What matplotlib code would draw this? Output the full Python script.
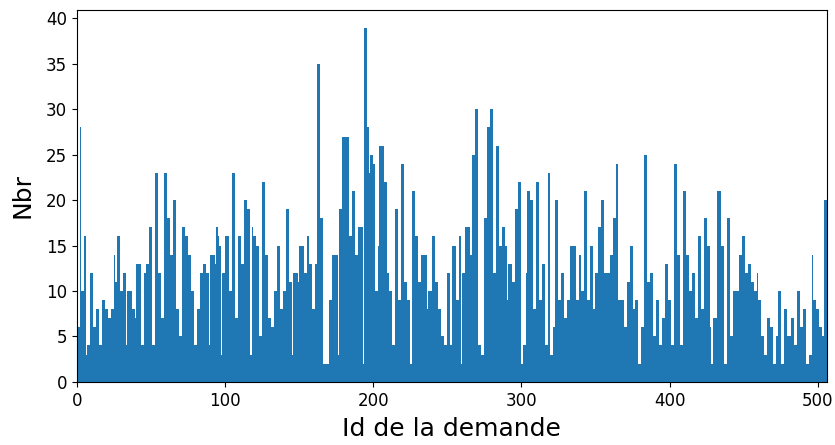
import numpy as np
import matplotlib
matplotlib.use('Agg')
import matplotlib.pyplot as plt

# Nombre par id de demande
counts = [
    6, 6, 28, 10, 10, 16, 3, 4, 4, 12,
    12, 6, 6, 8, 8, 4, 4, 9, 9, 8,
    8, 7, 7, 8, 8, 14, 11, 16, 16, 10,
    10, 12, 12, 4, 10, 10, 10, 8, 8, 7,
    13, 13, 13, 4, 4, 12, 12, 13, 13, 17,
    17, 4, 4, 23, 23, 12, 12, 7, 7, 23,
    23, 18, 18, 14, 14, 20, 20, 8, 8, 5,
    5, 17, 17, 16, 16, 14, 14, 10, 10, 4,
    4, 8, 8, 12, 12, 13, 13, 12, 12, 4,
    14, 14, 14, 13, 17, 16, 15, 3, 12, 12,
    16, 16, 16, 10, 10, 23, 23, 7, 7, 16,
    16, 13, 13, 20, 20, 19, 19, 3, 17, 16,
    16, 15, 15, 5, 5, 22, 22, 14, 14, 7,
    7, 6, 6, 10, 10, 15, 15, 8, 8, 10,
    10, 19, 19, 11, 11, 3, 12, 12, 12, 11,
    15, 15, 15, 12, 12, 16, 16, 13, 13, 8,
    8, 13, 35, 35, 18, 18, 2, 2, 2, 2,
    9, 9, 14, 14, 14, 14, 3, 19, 19, 27,
    27, 27, 27, 27, 16, 16, 21, 21, 14, 14,
    17, 17, 17, 2, 39, 39, 28, 23, 25, 25,
    24, 10, 10, 15, 26, 26, 26, 22, 22, 12,
    12, 10, 10, 4, 4, 19, 19, 9, 9, 24,
    24, 11, 11, 9, 9, 2, 21, 21, 16, 16,
    11, 11, 14, 14, 14, 14, 8, 10, 10, 10,
    16, 16, 11, 11, 8, 8, 5, 5, 4, 4,
    12, 12, 4, 15, 15, 15, 9, 9, 16, 2,
    12, 12, 17, 17, 17, 14, 14, 25, 25, 30,
    30, 4, 4, 3, 3, 18, 18, 28, 28, 30,
    30, 12, 12, 26, 26, 15, 15, 17, 17, 15,
    9, 13, 13, 13, 11, 11, 19, 19, 22, 22,
    2, 4, 4, 12, 21, 21, 20, 20, 8, 8,
    22, 22, 9, 9, 13, 13, 4, 4, 23, 3,
    3, 6, 6, 20, 20, 9, 9, 12, 12, 7,
    7, 9, 9, 15, 15, 15, 15, 9, 9, 14,
    10, 10, 21, 21, 9, 9, 15, 15, 8, 8,
    12, 12, 17, 17, 20, 20, 12, 12, 12, 12,
    14, 14, 18, 18, 24, 9, 9, 9, 9, 6,
    6, 11, 11, 15, 15, 8, 8, 9, 9, 2,
    2, 6, 6, 25, 25, 11, 11, 12, 12, 5,
    5, 9, 9, 4, 4, 7, 7, 13, 13, 9,
    9, 4, 4, 24, 24, 14, 14, 4, 4, 21,
    21, 14, 14, 10, 10, 12, 12, 7, 7, 16,
    16, 8, 8, 18, 18, 15, 15, 6, 2, 7,
    7, 7, 21, 21, 21, 15, 15, 2, 2, 18,
    18, 5, 5, 10, 10, 10, 10, 14, 14, 16,
    16, 12, 12, 13, 13, 11, 11, 10, 10, 12,
    9, 9, 5, 5, 3, 3, 7, 7, 6, 6,
    2, 2, 5, 10, 10, 2, 2, 8, 8, 5,
    5, 5, 7, 7, 4, 4, 10, 10, 6, 6,
    8, 8, 2, 2, 3, 3, 14, 9, 9, 8,
    8, 6, 6, 5, 20, 20,
]
ids = np.arange(len(counts))

fig = plt.figure(figsize=(8.35, 4.45), dpi=100)
ax = fig.add_axes([0.092, 0.142, 0.898, 0.836])
ax.bar(ids, counts, width=1.0, align='edge', color='#1f77b4', linewidth=0)
ax.set_xlim(0, len(counts))
ax.set_xlabel('Id de la demande', fontsize=18, labelpad=5.5)
ax.set_ylabel('Nbr', fontsize=18, labelpad=8)
ax.tick_params(labelsize=12)

plt.savefig('out.png', dpi=100)
